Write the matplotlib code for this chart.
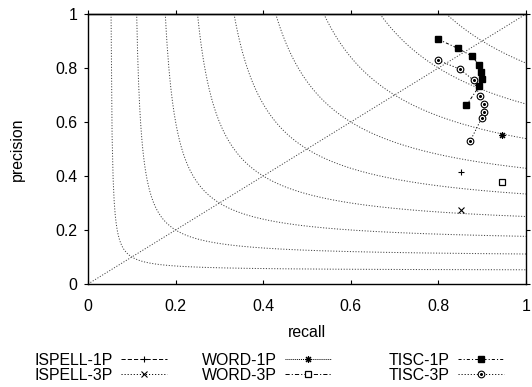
import matplotlib
matplotlib.use("Agg")
import matplotlib.pyplot as plt
import numpy as np

plt.rcParams['font.family'] = ['Liberation Sans', 'DejaVu Sans']
plt.rcParams['font.size'] = 11.4
plt.rcParams['lines.scale_dashes'] = False

# recall / precision
ispell1_r = [0.851]
ispell1_p = [0.415]
ispell3_r = [0.851]
ispell3_p = [0.274]
word1_r = [0.945]
word1_p = [0.553]
word3_r = [0.945]
word3_p = [0.379]
tisc1_r = [0.800, 0.844, 0.877, 0.893, 0.898, 0.899, 0.893, 0.864]
tisc1_p = [0.906, 0.873, 0.844, 0.810, 0.784, 0.758, 0.732, 0.662]
tisc3_r = [0.800, 0.849, 0.881, 0.894, 0.904, 0.905, 0.899, 0.873]
tisc3_p = [0.828, 0.796, 0.754, 0.695, 0.668, 0.638, 0.615, 0.531]

f_levels = [0.1, 0.2, 0.3, 0.4, 0.5, 0.6, 0.7, 0.8, 0.9]
ticks = [0, 0.2, 0.4, 0.6, 0.8, 1]

fig = plt.figure(figsize=(5.32, 3.87), dpi=100)
ax = fig.add_axes([88/532, 1-284/387, 438/532, 270/387])

dot = (0, (0.8, 1.2))
# iso F-measure curves and the diagonal
for f in f_levels:
    r = np.linspace(f/(2-f), 1, 400)
    p = f*r/(2*r - f)
    ax.plot(r, p, color='0.25', lw=0.7, linestyle=dot)
ax.plot([0, 1], [0, 1], color='0.25', lw=0.7, linestyle=dot)

h1, = ax.plot(ispell1_r, ispell1_p, color='k', lw=0.7, linestyle=(0, (3, 1.5)),
              marker='+', ms=5, mew=0.8)
h2, = ax.plot(ispell3_r, ispell3_p, color='k', lw=0.7, linestyle=(0, (0.8, 1.4)),
              marker='x', ms=4, mew=0.8)
h3, = ax.plot(word1_r, word1_p, color='k', lw=0.7, linestyle=(0, (0.7, 0.7)),
              marker=(8, 2, 0), ms=5, mew=0.8)
h4, = ax.plot(word3_r, word3_p, color='k', lw=0.7, linestyle=(0, (3, 1.5, 0.8, 1.5)),
              marker='s', ms=4.8, mfc='white', mew=0.9)
h5, = ax.plot(tisc1_r, tisc1_p, color='k', lw=0.7, linestyle=(0, (2.2, 1.5, 0.8, 1.5)),
              marker='s', ms=4.6)
h6, = ax.plot(tisc3_r, tisc3_p, color='k', lw=0.7, linestyle=(0, (0.8, 1.4)),
              marker='o', ms=4.8, mfc='white', mew=0.8)
h6b, = ax.plot(tisc3_r, tisc3_p, linestyle='none', color='k', marker='o', ms=1.2)

ax.set_xlim(0, 1)
ax.set_ylim(0, 1)
ax.set_xticks(ticks)
ax.set_yticks(ticks)
ax.set_xticklabels(['%g' % t for t in ticks])
ax.set_yticklabels(['%g' % t for t in ticks])
ax.tick_params(axis='x', direction='in', length=3, width=0.8, pad=11, top=False)
ax.tick_params(axis='y', direction='out', length=3, width=0.8, pad=4.5, right=True)
sec = ax.secondary_xaxis('top')
sec.set_xticks(ticks)
sec.tick_params(direction='out', length=3, width=0.8, labeltop=False)
for s in list(ax.spines.values()) + list(sec.spines.values()):
    s.set_linewidth(1.0)

ax.set_xlabel('recall', labelpad=8)
ax.set_ylabel('precision', labelpad=22)

cols = [([h1, h2], ['ISPELL-1P', 'ISPELL-3P'], 35),
        ([h3, h4], ['WORD-1P', 'WORD-3P'], 202),
        ([h5, (h6, h6b)], ['TISC-1P', 'TISC-3P'], 389)]
for hs, labs, x in cols:
    fig.legend(hs, labs, loc='upper left', bbox_to_anchor=(x/532, 1-353/387),
               frameon=False, borderpad=0, borderaxespad=0, markerfirst=False,
               numpoints=1, handlelength=2.9, handletextpad=0.5,
               labelspacing=0.0, fontsize=11.4)

fig.savefig('out.png', dpi=100)
